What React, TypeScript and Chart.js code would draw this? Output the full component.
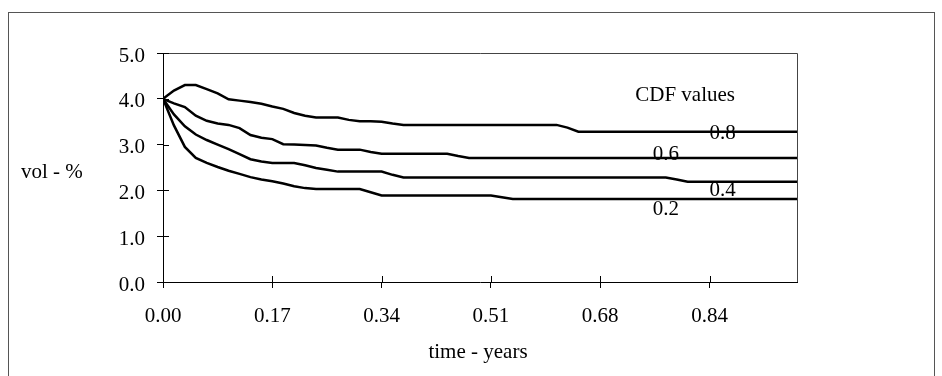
import React, { useEffect, useRef } from "react";
import { Chart, registerables } from "chart.js";

Chart.register(...registerables);

// ---- data ----
const xTickLabels = ["0.00", "0.17", "0.34", "0.51", "0.68", "0.84"];
const yTicks = [0, 1, 2, 3, 4, 5];
const seriesNames = ["0.8", "0.6", "0.4", "0.2"];

const cdf08 = [
  4.0, 4.18, 4.3, 4.3, 4.21, 4.12, 3.99, 3.96, 3.93, 3.89,
  3.83, 3.78, 3.69, 3.63, 3.59, 3.59, 3.59, 3.54, 3.51, 3.51,
  3.5, 3.46, 3.43, 3.43, 3.43, 3.43, 3.43, 3.43, 3.43, 3.43,
  3.43, 3.43, 3.43, 3.43, 3.43, 3.43, 3.43, 3.37, 3.28, 3.28,
  3.28, 3.28, 3.28, 3.28, 3.28, 3.28, 3.28, 3.28, 3.28, 3.28,
  3.28, 3.28, 3.28, 3.28, 3.28, 3.28, 3.28, 3.28, 3.28,
];
const cdf06 = [
  4.0, 3.9, 3.82, 3.63, 3.52, 3.46, 3.43, 3.36, 3.21, 3.15,
  3.12, 3.01, 3.0, 2.99, 2.98, 2.93, 2.89, 2.89, 2.89, 2.84,
  2.8, 2.8, 2.8, 2.8, 2.8, 2.8, 2.8, 2.75, 2.71, 2.71,
  2.71, 2.71, 2.71, 2.71, 2.71, 2.71, 2.71, 2.71, 2.71, 2.71,
  2.71, 2.71, 2.71, 2.71, 2.71, 2.71, 2.71, 2.71, 2.71, 2.71,
  2.71, 2.71, 2.71, 2.71, 2.71, 2.71, 2.71, 2.71, 2.71,
];
const cdf04 = [
  4.0, 3.66, 3.4, 3.22, 3.1, 3.0, 2.9, 2.79, 2.68, 2.63,
  2.6, 2.6, 2.6, 2.55, 2.49, 2.45, 2.41, 2.41, 2.41, 2.41,
  2.41, 2.34, 2.28, 2.28, 2.28, 2.28, 2.28, 2.28, 2.28, 2.28,
  2.28, 2.28, 2.28, 2.28, 2.28, 2.28, 2.28, 2.28, 2.28, 2.28,
  2.28, 2.28, 2.28, 2.28, 2.28, 2.28, 2.28, 2.24, 2.19, 2.19,
  2.19, 2.19, 2.19, 2.19, 2.19, 2.19, 2.19, 2.19, 2.19,
];
const cdf02 = [
  4.0, 3.42, 2.95, 2.71, 2.6, 2.51, 2.43, 2.36, 2.29, 2.24,
  2.2, 2.15, 2.09, 2.05, 2.03, 2.03, 2.03, 2.03, 2.03, 1.96,
  1.89, 1.89, 1.89, 1.89, 1.89, 1.89, 1.89, 1.89, 1.89, 1.89,
  1.89, 1.85, 1.81, 1.81, 1.81, 1.81, 1.81, 1.81, 1.81, 1.81,
  1.81, 1.81, 1.81, 1.81, 1.81, 1.81, 1.81, 1.81, 1.81, 1.81,
  1.81, 1.81, 1.81, 1.81, 1.81, 1.81, 1.81, 1.81, 1.81,
];
const allSeries = [cdf08, cdf06, cdf04, cdf02];

// annotation anchors, in data units (x = sample index, y = vol %)
const legendTitle = "CDF values";
const legendTitleAnchor = { x: 43.2, y: 3.945 };
const seriesLabelAnchors = [
  { x: 50.0, y: 3.116 },
  { x: 44.8, y: 2.659 },
  { x: 50.0, y: 1.867 },
  { x: 44.8, y: 1.46 },
];

const FONT = "21px 'Liberation Serif', 'Times New Roman', serif";

const decorations = {
  id: "decorations",
  beforeDraw(chart: any) {
    const ctx = chart.ctx;
    ctx.save();
    ctx.strokeStyle = "#555";
    ctx.lineWidth = 1;
    ctx.strokeRect(8.5, 12.5, 926, 420);
    ctx.restore();
  },
  afterDraw(chart: any) {
    const { ctx, chartArea: a } = chart;
    const xs = chart.scales.x;
    const ys = chart.scales.y;
    ctx.save();
    // frame top/right
    const top = Math.round(a.top) + 0.5;
    const right = Math.round(a.right) + 0.5;
    ctx.strokeStyle = "#444";
    ctx.lineWidth = 1;
    ctx.beginPath();
    ctx.moveTo(a.left, top);
    ctx.lineTo(right, top);
    ctx.lineTo(right, a.bottom);
    ctx.stroke();
    // inner ticks
    ctx.strokeStyle = "#000";
    ctx.beginPath();
    xs.ticks.forEach((t: any) => {
      const px = Math.round(xs.getPixelForValue(t.value)) + 0.5;
      ctx.moveTo(px, a.bottom);
      ctx.lineTo(px, a.bottom - 6);
    });
    ys.ticks.forEach((t: any) => {
      const py = Math.round(ys.getPixelForValue(t.value)) + 0.5;
      ctx.moveTo(a.left, py);
      ctx.lineTo(a.left + 6, py);
    });
    ctx.stroke();
    // texts
    ctx.fillStyle = "#000";
    ctx.font = FONT;
    ctx.textBaseline = "alphabetic";
    ctx.textAlign = "left";
    ctx.fillText(
      legendTitle,
      xs.getPixelForValue(legendTitleAnchor.x),
      ys.getPixelForValue(legendTitleAnchor.y)
    );
    seriesNames.forEach((name, i) => {
      const p = seriesLabelAnchors[i];
      ctx.fillText(name, xs.getPixelForValue(p.x), ys.getPixelForValue(p.y));
    });
    // axis titles
    ctx.fillText("vol - %", 21, 178);
    ctx.textAlign = "center";
    ctx.fillText("time - years", (a.left + a.right) / 2 - 2, 358);
    ctx.restore();
  },
};

export default function App() {
  const ref = useRef<HTMLCanvasElement | null>(null);
  useEffect(() => {
    if (!ref.current) return;
    const chart = new Chart(ref.current, {
      type: "line",
      data: {
        datasets: allSeries.map((s, k) => ({
          label: seriesNames[k],
          data: s.map((v, i) => ({ x: i, y: v })),
          borderColor: "#000",
          borderWidth: 2.5,
          pointRadius: 0,
          tension: 0,
          fill: false,
        })),
      },
      options: {
        animation: false,
        responsive: false,
        devicePixelRatio: 1,
        layout: { padding: { left: 0, right: 145, top: 53, bottom: 0 } },
        plugins: {
          legend: { display: false },
          tooltip: { enabled: false },
        },
        scales: {
          x: {
            type: "linear",
            min: 0,
            max: 58,
            afterBuildTicks: (s: any) => {
              s.ticks = xTickLabels.map((_, k) => ({ value: k * 10 }));
            },
            afterFit: (s: any) => {
              s.height = 94;
            },
            grid: {
              drawOnChartArea: false,
              drawTicks: true,
              tickLength: 6,
              color: "#000",
            },
            border: { display: true, color: "#000", width: 1 },
            ticks: {
              autoSkip: false,
              maxRotation: 0,
              padding: 16,
              color: "#000",
              font: { family: "'Liberation Serif'", size: 21 },
              callback: (_v: any, idx: number) => xTickLabels[idx],
            },
          },
          y: {
            type: "linear",
            min: 0,
            max: 5,
            afterBuildTicks: (s: any) => {
              s.ticks = yTicks.map((v) => ({ value: v }));
            },
            afterFit: (s: any) => {
              s.width = 163;
            },
            grid: {
              drawOnChartArea: false,
              drawTicks: true,
              tickLength: 6,
              color: "#000",
            },
            border: { display: true, color: "#000", width: 1 },
            ticks: {
              padding: 12,
              labelOffset: 3,
              color: "#000",
              font: { family: "'Liberation Serif'", size: 21 },
              callback: (v: any) => Number(v).toFixed(1),
            },
          },
        },
      },
      plugins: [decorations],
    });
    return () => chart.destroy();
  }, []);
  return (
    <div style={{ position: "absolute", left: 0, top: 0, width: 942, height: 376, overflow: "hidden", background: "#fff" }}>
      <canvas ref={ref} width={942} height={376} style={{ display: "block" }} />
    </div>
  );
}
